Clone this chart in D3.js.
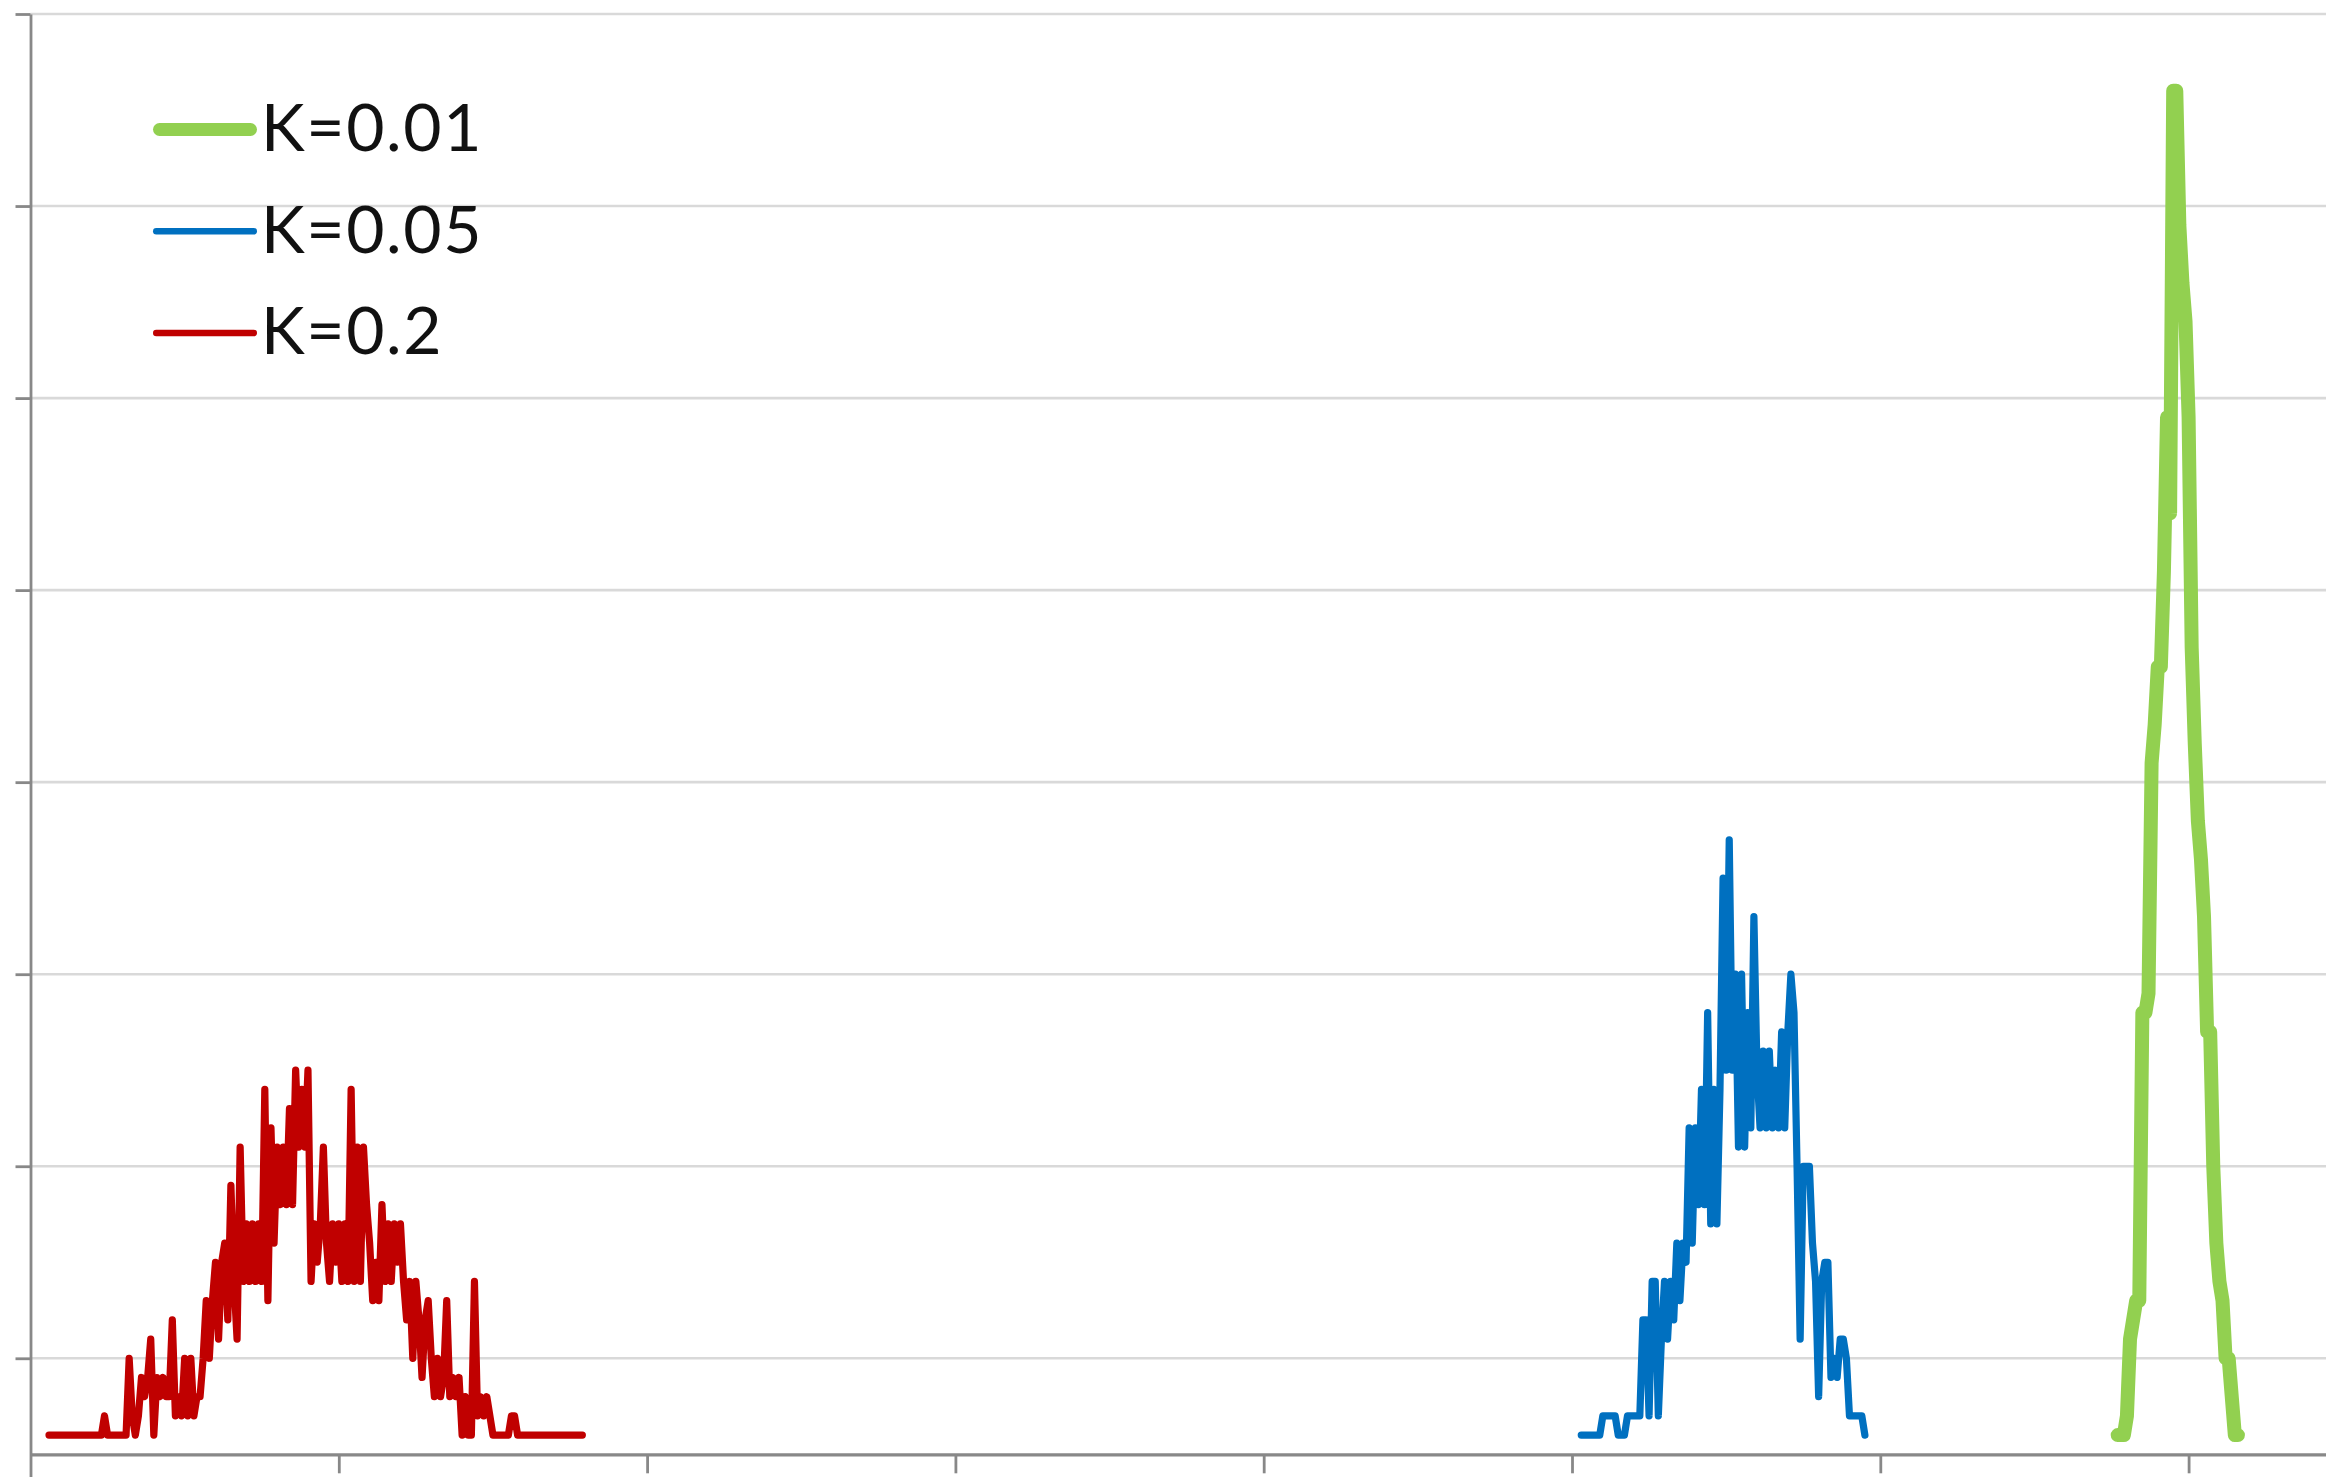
<!DOCTYPE html>
<html>
<head>
<meta charset="utf-8">
<script src="https://cdn.jsdelivr.net/npm/d3@7"></script>
<style>
  html, body { margin: 0; padding: 0; background: #ffffff; }
  svg { display: block; }
</style>
</head>
<body>
<div id="chart"></div>
<script>
// ---- data ---------------------------------------------------------------
// Histogram counts per bin; each series starts at its own first bin.
const seriesLabels = ["K=0.01", "K=0.05", "K=0.2"];
const seriesColors = ["#92d050", "#0070c0", "#c00000"];

const greenStart = 677;
const greenCounts = [
  0, 0, 0, 1, 5, 6, 7, 7, 22, 22, 23, 35, 37, 40, 40, 45, 53, 48, 70, 70,
  63, 60, 58, 53, 41, 36, 32, 30, 27, 21, 21, 14, 10, 8, 7, 4, 4, 2, 0, 0
];

const blueStart = 503;
const blueCounts = [
  0, 0, 0, 0, 0, 0, 0, 1, 1, 1,
  1, 1, 0, 0, 0, 1, 1, 1, 1, 1,
  6, 6, 1, 8, 8, 1, 5, 8, 5, 8,
  6, 10, 7, 10, 9, 16, 10, 16, 12, 18,
  12, 22, 11, 18, 11, 18, 29, 19, 31, 19,
  24, 15, 24, 15, 22, 16, 27, 19, 16, 20,
  16, 20, 16, 19, 16, 21, 16, 21, 24, 22,
  14, 5, 14, 14, 14, 10, 8, 2, 8, 9,
  9, 3, 4, 3, 5, 5, 4, 1, 1, 1,
  1, 1, 0
];

const redStart = 6;
const redCounts = [
  0, 0, 0, 0, 0, 0, 0, 0, 0, 0,
  0, 0, 0, 0, 0, 0, 0, 0, 1, 0,
  0, 0, 0, 0, 0, 0, 4, 1, 0, 1,
  3, 2, 3, 5, 0, 3, 2, 3, 2, 2,
  6, 1, 2, 1, 4, 1, 4, 1, 2, 2,
  4, 7, 4, 7, 9, 5, 9, 10, 6, 13,
  8, 5, 15, 8, 11, 8, 11, 8, 11, 8,
  18, 7, 16, 10, 15, 12, 15, 12, 17, 12,
  19, 15, 18, 15, 19, 8, 11, 9, 11, 15,
  10, 8, 11, 9, 11, 8, 11, 8, 18, 8,
  15, 8, 15, 12, 10, 7, 9, 7, 12, 8,
  11, 8, 11, 9, 11, 8, 6, 8, 4, 8,
  6, 3, 6, 7, 4, 2, 4, 2, 3, 7,
  2, 3, 2, 3, 0, 2, 0, 0, 8, 1,
  2, 1, 2, 1, 0, 0, 0, 0, 0, 0,
  1, 1, 0, 0, 0, 0, 0, 0, 0, 0,
  0, 0, 0, 0, 0, 0, 0, 0, 0, 0,
  0, 0, 0, 0
];

const xTickValues = [0, 100, 200, 300, 400, 500, 600, 700, 800];
const yTickValues = [-6, 4, 14, 24, 34, 44, 54, 64, 74];
const xDomain = [0, 800];
const yDomain = [-6, 74];
const xAxisCrossing = -1;

// ---- layout -------------------------------------------------------------
const W = 2326, H = 1477;
const plotLeft = 30.5, plotTop = 14;
const bin = 308.3;                 // pixels per 100 bins
const plotRight = plotLeft + bin * 8;
const plotBottom = plotTop + 19.204 * 80;

const svg = d3.select("#chart").append("svg")
  .attr("width", W).attr("height", H)
  .attr("viewBox", `0 0 ${W} ${H}`);

svg.append("rect").attr("width", W).attr("height", H).attr("fill", "#ffffff");

const x = d3.scaleLinear().domain(xDomain).range([plotLeft, plotRight]);
const y = d3.scaleLinear().domain(yDomain).range([plotBottom, plotTop]);

// horizontal gridlines
svg.append("g").attr("class", "grid")
  .selectAll("line").data(yTickValues).join("line")
  .attr("x1", x(xDomain[0])).attr("x2", x(xDomain[1]))
  .attr("y1", d => y(d)).attr("y2", d => y(d))
  .attr("stroke", "#d9d9d9").attr("stroke-width", 2.6);

// value axis (left)
const yAxis = d3.axisLeft(y).tickValues(yTickValues).tickSize(15)
  .tickSizeOuter(0).tickFormat("");
const gy = svg.append("g").attr("transform", `translate(${plotLeft},0)`).call(yAxis);
gy.select(".domain").attr("stroke", "#888888").attr("stroke-width", 2.8);
gy.selectAll(".tick line").attr("stroke", "#888888").attr("stroke-width", 2.8);

// category axis, crossing the value axis at -1
const xAxis = d3.axisBottom(x).tickValues(xTickValues.slice(1)).tickSize(19)
  .tickSizeOuter(0).tickFormat("");
const gx = svg.append("g").attr("transform", `translate(0,${y(xAxisCrossing)})`).call(xAxis);
gx.select(".domain").attr("stroke", "#888888").attr("stroke-width", 3.2);
gx.selectAll(".tick line").attr("stroke", "#888888").attr("stroke-width", 2.8);

// ---- series -------------------------------------------------------------
const series = [
  { label: seriesLabels[0], color: seriesColors[0], start: greenStart, counts: greenCounts, width: 14, key: 13 },
  { label: seriesLabels[1], color: seriesColors[1], start: blueStart, counts: blueCounts, width: 7.2, key: 6.5 },
  { label: seriesLabels[2], color: seriesColors[2], start: redStart, counts: redCounts, width: 7.2, key: 6.5 }
];

const line = d3.line()
  .x(d => x(d.bin))
  .y(d => y(d.count));

svg.append("g").attr("class", "series")
  .selectAll("path").data(series.slice().reverse()).join("path")
  .attr("d", s => line(s.counts.map((c, i) => ({ bin: s.start + i, count: c }))))
  .attr("fill", "none")
  .attr("stroke", s => s.color)
  .attr("stroke-width", s => s.width)
  .attr("stroke-linejoin", "round")
  .attr("stroke-linecap", "round");

// ---- legend -------------------------------------------------------------
const legend = svg.append("g").attr("class", "legend");
const rows = legend.selectAll("g").data(series).join("g")
  .attr("transform", (d, i) => `translate(0,${129.5 + i * 101.8})`);

rows.append("line")
  .attr("x1", d => 153 + d.key / 2).attr("x2", d => 257 - d.key / 2)
  .attr("y1", 0).attr("y2", 0)
  .attr("stroke", d => d.color)
  .attr("stroke-width", d => d.key)
  .attr("stroke-linecap", "round");

rows.append("text")
  .attr("x", 261).attr("y", 21.3)
  .attr("font-family", "Lato, 'Open Sans', sans-serif")
  .attr("font-size", 66)
  .attr("letter-spacing", 1.6)
  .attr("fill", "#111111")
  .text(d => d.label);
</script>
</body>
</html>
